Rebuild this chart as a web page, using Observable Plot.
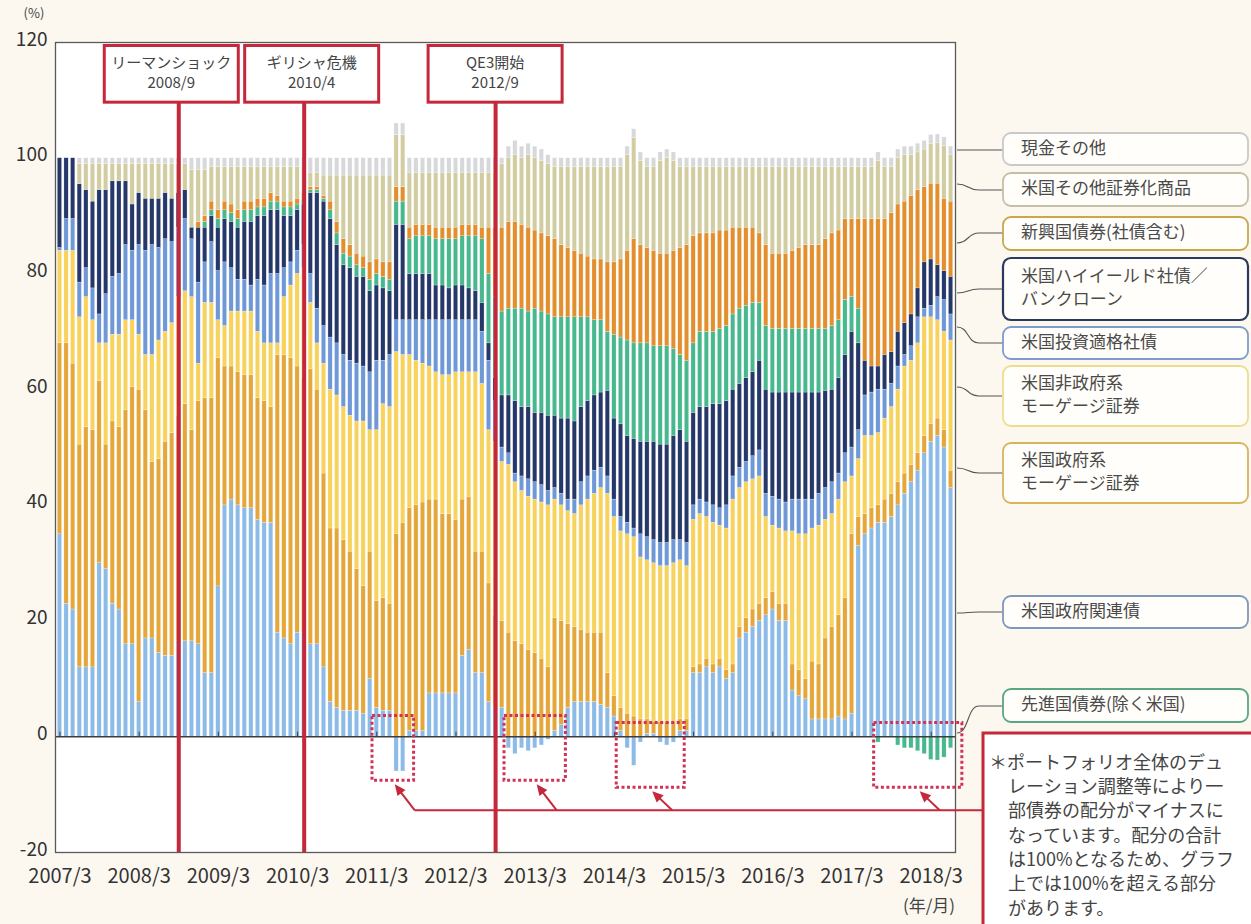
<!DOCTYPE html>
<html><head><meta charset="utf-8">
<script src="https://cdn.jsdelivr.net/npm/d3@7"></script>
<script src="https://cdn.jsdelivr.net/npm/@observablehq/plot@0.6"></script>
<style>
html,body{margin:0;padding:0;background:#fcf8f0;}
#chart{position:relative;width:1251px;height:924px;overflow:hidden;}
</style></head>
<body><div id="chart"></div>
<script>
// ---- months (categories) ----
const startYear = 2007, startMonth = 3, monthCount = 136;
const months = d3.range(monthCount).map(i => {
  const m = startMonth - 1 + i;
  return `${startYear + Math.floor(m / 12)}/${(m % 12) + 1}`;
});
const tickLabels = ["2007/3","2008/3","2009/3","2010/3","2011/3","2012/3","2013/3","2014/3","2015/3","2016/3","2017/3","2018/3"];
const yTicks = [-20, 0, 20, 40, 60, 80, 100, 120];

// ---- series names in stack order (bottom -> top) ----
const seriesNames = [
  "米国政府関連債",
  "米国政府系モーゲージ証券",
  "米国非政府系モーゲージ証券",
  "米国投資適格社債",
  "米国ハイイールド社債／バンクローン",
  "先進国債券(除く米国)",
  "新興国債券(社債含む)",
  "米国その他証券化商品",
  "現金その他"
];
const seriesColors = ["#8cbbe8","#e5a63a","#f7d25c","#6f98d7","#26386a","#48b88e","#e38f2e","#d2cca1","#d7d8d9"];

// ---- values (%), monthly 2007/3 .. 2018/6 ----
const seifuKanren = [35,23,22,12,12,12,30,29,23,22, 16,16,6,17,17,14.5,14,14,16.5,16.5, 16.5,16,11,11,26,40,41,40,39.5,39.5, 37.5,37,37,18,17,16,18,18,16,16, 12,6,5,4.5,4.5,4.5,4,10,5,4.5, 4.5,-6,-6,1,1,1,7.5,7.5,7.5,7.5, 7.5,14,15,11,11,6,5,5,-2,-3, -2,-2.5,-2,-1.5,-0.5,1,2,5,6,6, 6,6,5.5,5,3.5,1,-2,-5,-1,0.5, 0.5,-1,-1.5,-1,1,1,11,11,12,11, 12,10,11,17,18,19,20,21,22,20, 20,8,7,6.5,3,3,3,3,3.5,3, 4,33,35,36,37,37,38,40,42,44, 46,49,51,52,50,43];
const seifuMBS = [33,45,42.5,38.5,41.5,41,31.5,21.5,31.5,31.5, 40.5,44.5,54,39.5,30.5,33.5,37,38.5,39,41, 36.5,42,47.5,47.5,39.5,24,23,23,23,23, 21,21,20,48,49,49.5,46,44,47.5,44, 33.5,30,31,29.5,27.5,24.5,22,22,18.5,19.5, 18.5,35,37,38.5,39,39.5,33.5,33.5,31,31, 30,27,26.5,21,21,20.5,16,15,18,16.5, 16,15,14.5,13.5,12,19.5,18,14.5,13,12.5, 12,12,12.5,6,3.5,4,4,3.5,3,2.5, 2,2.5,2.5,2.5,2,2,1,1.5,1.5,1.5, 1.5,1.5,1.5,2,2.5,3,3,3,3,3, 3,4.5,4.5,3.5,10,9.5,14,16,17.5,21, 31,5,3.5,3.5,3,4,4,4,3.5,3, 3,3,3,3,3,3];
const hiseifuMBS = [16,16,19.5,22,22.5,19,6.5,17.5,15,16, 15.5,11.5,9.5,9.5,18.5,20.5,19,19,20.5,19.5, 23,6.5,16.5,16.5,6.5,7,9.5,10.5,11,11, 11.5,10,11,2,10,12.5,16,19,11.5,8, 19,24,23,23,23.5,25.5,28.5,21,29.5,33.5, 34,31.5,29,26.5,25,24,23,22,24,24, 25.5,22,21.5,31,29,26.5,30,27.5,29,27.5, 26.5,26.5,26.5,27,28,20.5,20,19.5,19.5,21.5, 23,24,25,31,31,30.5,31,31,28,27.5, 27.5,27,27,27.5,27.5,26.5,25.5,26,24.5,24.5, 23,24.5,28.5,24,23.5,22.5,22,14,11.5,13, 12.5,23,23.5,25,23,24,20.5,19.5,20,20, 10,10,13.5,12.5,12.5,14,15,16,18.5,18, 19,20.5,18.5,17,17,22.5];
const toushiTekikaku = [0.5,5.5,5.5,6,5,5.5,5,8.5,10,10.5, 13,12,15.5,18,19,16,16,14,12,12.5, 10,14,7,10.5,8.5,11,7.5,5.5,5.5,4.5, 9,10,12,12,5,4,4,4,5,6, 6.5,9,9,9,9.5,10,9.5,10,12,7.5, 9,5.5,6,6,7,7.5,8,9,9.5,9.5, 9,9,9,9,9,12,7,2.5,2,1.5, 2.5,3,3,3,2.5,2,2,2,2.5,4, 4,4,3.5,3,3,2.5,2,1.5,4,4, 4,4,4,4,3.5,4,2.5,2.5,2.5,3, 3,4,4,3.5,3.5,4,4.5,4,5,5, 5,5.5,6,6,5,5.5,5.5,5.5,4.5,5, 5,5,7,7.5,7.5,5,4,4,2,2.5, 4.5,1.5,2,4,5.5,4.5];
const highYield = [15.5,10.5,10.5,17,13.5,15,21.5,18,16.5,16, 11,8,9,9,8,8.5,8,7.5,6,5, 2,9.5,6,4.5,7.5,7.5,8,9,10,11, 11,12,11,11,9,8,7,7,14,20, 21.5,20.5,17,15.5,16,15,15.5,14,13,12.5, 11,16.5,16.5,8,8,8,8,6,6,5.5, 6,6,5.5,5,5,3,4,9,10,12.5, 12,12.5,12,12.5,13,12.5,13,14,13.5,13, 13,13,13,14.8,14,16,15,15.5,16,16.5, 17,17,17,18,19,17.5,16,16,16.5,17.5, 18,18,15,14.5,14.5,14.5,15.5,18,18,18.5, 19,18.5,18.5,18.5,18.5,17.5,16.8,16,16.5,17, 20,15,6,4.5,4,6,5.5,6,5.5,5.5, 5,8,8,5.5,5,6.5];
const senshinkoku = [0,0,0,0,0,0,0,0,0,0, 0,0,0,0,0,0,0,0,0,0, 0,0,1,1,1.5,1.5,1.5,1.5,2,2, 1.5,1.5,1.5,1.5,1.5,1.5,1,1,0.5,0.5, 0.5,1.5,2,2,2,2,1.5,2,2,2, 2,4,4,6,6.5,6.5,6.5,8,8,8.5, 8,8.5,9,9.5,11,12,14,14.5,15,16, 17,16.5,18,17.5,17.5,17,17.5,17.5,18,15.5, 14.5,13,12.5,10.2,14.5,15,16.5,16.5,17,17, 16.5,17,17,15,13,14,12,13,13,12.5, 13,13,13,13,12.5,12,10,11,11,11, 11,11,11,11,11,11,10.7,11,10,9.5, 6,6,0,0,-1,0,0,-1.5,-2,-2, -2.5,-3,-4,-4.1,-3.6,-2];
const shinkoukoku = [0,0,0,0,0,0,0,0,0,0, 0,0,0,0,0,0,0,0,0,0, 0,1,1,1.5,1.5,1.5,1.5,1.5,1.5,1.5, 1.5,1.5,1.5,1,1,1,1,1,0.5,0.5, 0.5,1.5,2,2.5,2,2,2,3,2.5,2.5, 3,2.5,2.5,2,2,2,2,2,2,2, 2,2,2,2,2,8,12,14.5,15,15, 14.5,14.5,13.5,13.5,13.5,13.5,12.5,12,11.5,11, 10.5,10.5,10.5,12,12.5,13.5,15.5,18,17,16.5, 16.5,16,16,17,18.5,20,18.5,17,17,17, 17,16.5,15,14,13.5,13,12,14,13,13, 13,13.5,14,14.5,14.5,14.5,15.5,16,15.5,14, 13.5,15.5,24.5,25.5,25.5,23.5,24,22,21,20.5, 17,13,13.1,14.1,12.5,13];
const sonotaShouken = [0,0,0,3.5,4.5,6.5,4.5,4.5,3,3, 3,7,5,6,6,6,5,6,5,4.5, 10,9,8,6,7.5,6,6.5,7.5,6,6, 5.5,5.5,4.5,5,6,6,5.5,4.5,2.5,2.5, 3.5,4.5,8,11,12,13.5,14,15,14.5,15, 15,9,9,9.5,9,9,9,9.5,9.5,9.5, 9.5,9,9,9,9.5,9.5,9.5,11,11,11.5, 11.5,12.5,12.5,12.5,12.5,12.5,13.5,14,14.5,15, 15.5,16,16,16.5,16.5,16,16.5,17.5,14.5,14, 14.5,16,16.5,15.5,14,13.5,12,11.5,11.5,11.5, 11,11,10.5,10.5,10.5,10.5,11.5,13.5,15,15, 15,14.5,14,13.5,13.5,13.5,12.5,11.5,11,9, 9,9,9,9,10,9,8,8,8,7, 6.5,6.5,6.9,7,9.1,8];
const genkin = [0,0,0,1,1,1,1,1,1,1, 1,1,1,1,1,1,1,1,1,1, 2,2,2,1.5,1.5,1.5,1.5,1.5,1.5,1.5, 1.5,1.5,1.5,1.5,1.5,1.5,1.5,1.5,2.5,2.5, 3,3,3,3,3,3,3,3,3,3, 3,2,2,2.5,2.5,2.5,2.5,2.5,2.5,2.5, 2.5,2.5,2.5,2.5,2.5,2.5,2.5,1,2,2.5, 2,2,2,2,1.5,1.5,1.5,1.5,1.5,1.5, 1.5,1.5,1.5,1.5,1.5,1.5,1.5,1.5,1.5,1.5, 1.5,1.5,1.5,1.5,1.5,1.5,1.5,1.5,1.5,1.5, 1.5,1.5,1.5,1.5,1.5,1.5,1.5,1.5,1.5,1.5, 1.5,1.5,1.5,1.5,1.5,1.5,1.5,1.5,1.5,1.5, 1.5,1.5,1.5,1.5,1.5,1.5,1.5,1.5,1.5,1.5, 1.5,1.5,1.5,1.5,1.5,1.5];

const seriesValues = [seifuKanren, seifuMBS, hiseifuMBS, toushiTekikaku, highYield, senshinkoku, shinkoukoku, sonotaShouken, genkin];

// ---- events & annotations ----
const events = [
  {month: "2008/9", title: "リーマンショック", date: "2008/9"},
  {month: "2010/4", title: "ギリシャ危機", date: "2010/4"},
  {month: "2012/9", title: "QE3開始", date: "2012/9"}
];
const negativeBoxes = [
  {from: "2011/3", to: "2011/8"},
  {from: "2012/11", to: "2013/7"},
  {from: "2014/4", to: "2015/1"},
  {from: "2017/7", to: "2018/6"}
];
const noteLines = ["＊ポートフォリオ全体のデュ","レーション調整等により一","部債券の配分がマイナスに","なっています。配分の合計","は100%となるため、グラフ","上では100%を超える部分","があります。"];
const legendLabels = [
  ["現金その他"], ["米国その他証券化商品"], ["新興国債券(社債含む)"],
  ["米国ハイイールド社債／","バンクローン"], ["米国投資適格社債"],
  ["米国非政府系","モーゲージ証券"], ["米国政府系","モーゲージ証券"],
  ["米国政府関連債"], ["先進国債券(除く米国)"]
];

// ---- build table ----
const rows = seriesNames.flatMap((name, s) => seriesValues[s].map((v, i) => ({month: months[i], series: name, value: v})));

const RED = "#c4283a";
const FONT = '"Noto Sans CJK JP","Noto Sans",sans-serif';

const chart = Plot.plot({
  width: 1251, height: 924,
  marginLeft: 55, marginRight: 296, marginTop: 42, marginBottom: 72,
  style: {background: "transparent", fontFamily: FONT, color: "#333", overflow: "visible"},
  x: {domain: months, padding: 0.35, axis: null},
  y: {domain: [-20, 120], axis: null},
  color: {domain: seriesNames, range: seriesColors},
  marks: [
    Plot.frame({fill: "white", stroke: null}),
    Plot.barY(rows, {x: "month", y: "value", fill: "series", order: seriesNames, stroke: "white", strokeWidth: 0.4, strokeOpacity: 0.6}),
    Plot.ruleY([0], {stroke: "#3c3c3c", strokeWidth: 1.4}),
    Plot.ruleX(tickLabels, {x: d => d, y1: 0, y2: 0.8, stroke: "#3c3c3c", strokeWidth: 1}),
    Plot.ruleX(events, {x: "month", y1: -20, y2: 109.6, stroke: RED, strokeWidth: 4}),
    Plot.frame({stroke: "#5a5a5a", strokeWidth: 1.3}),
    Plot.axisX({ticks: tickLabels, tickSize: 0, tickPadding: 16, fontSize: 20, fill: "#333", label: null}),
    Plot.axisY({ticks: yTicks, tickSize: 0, tickPadding: 8, fontSize: 19, dy: -3, fill: "#333", label: null, tickFormat: d => String(d)})
  ]
});
document.getElementById("chart").appendChild(chart);

// ---- overlay annotations using the chart scales ----
const svg = d3.select(chart);
const xs = chart.scale("x"), ys = chart.scale("y");
const step = xs.step, bw = xs.bandwidth;
const cx = m => xs.apply(m) + bw / 2;
const Y = v => ys.apply(v);
const plotRight = 1251 - 296;
const overlay = svg.append("g").attr("text-anchor", "start").attr("font-family", FONT);

// "(%)" and "(年/月)"
overlay.append("text").attr("x", 34).attr("y", 14).attr("text-anchor", "middle").attr("dominant-baseline", "middle")
  .attr("font-size", 13).attr("fill", "#444").text("(%)");
overlay.append("text").attr("x", 929).attr("y", 907).attr("text-anchor", "middle").attr("dominant-baseline", "middle")
  .attr("font-size", 17).attr("fill", "#444").text("(年/月)");

// event boxes (box centre offset from the event line, in px)
const evTop = 119.4, evBottom = 109.6, evWidth = 134;
const evShift = [-7, 8, 0];
events.forEach((e, j) => {
  const c = cx(e.month) + evShift[j];
  overlay.append("rect").attr("x", c - evWidth / 2).attr("y", Y(evTop))
    .attr("width", evWidth).attr("height", Y(evBottom) - Y(evTop))
    .attr("fill", "white").attr("stroke", RED).attr("stroke-width", 3);
  [e.title, e.date].forEach((t, k) => {
    overlay.append("text").attr("x", c).attr("y", Y(evTop) + 18 + k * 20).attr("text-anchor", "middle")
      .attr("dominant-baseline", "middle").attr("font-size", 15).attr("fill", "#444").text(t);
  });
});

// dashed boxes around negative allocations
const boxTops = [3.6, 3.6, 2.4, 2.4], boxBottoms = [-7.6, -7.6, -8.8, -8.8];
const arrowLineLevel = -12.8;
const heads = [];
negativeBoxes.forEach((b, j) => {
  const x1 = cx(b.from) - step / 2 - 1, x2 = cx(b.to) + step / 2 + (j === 3 ? 8 : 1);
  overlay.append("rect").attr("x", x1).attr("y", Y(boxTops[j])).attr("width", x2 - x1).attr("height", Y(boxBottoms[j]) - Y(boxTops[j]))
    .attr("fill", "none").attr("stroke", "#cf3458").attr("stroke-width", 3).attr("stroke-dasharray", "3,2.5");
  heads.push({x: (x1 + x2) / 2 + 2, y: Y(boxBottoms[j]) + 4});
});
const lineY = Y(arrowLineLevel);
const noteX = 983;
overlay.append("line").attr("x1", heads[0].x + 20).attr("x2", noteX).attr("y1", lineY).attr("y2", lineY)
  .attr("stroke", RED).attr("stroke-width", 2);
heads.forEach(h => {
  const tx = h.x + 20, ty = lineY;
  const dx = h.x - tx, dy = h.y - ty, len = Math.hypot(dx, dy);
  const ux = dx / len, uy = dy / len, nx = -uy, ny = ux;
  overlay.append("line").attr("x1", tx).attr("y1", ty).attr("x2", h.x - ux * 6).attr("y2", h.y - uy * 6)
    .attr("stroke", RED).attr("stroke-width", 2);
  const p = [[h.x, h.y], [h.x - ux * 11 + nx * 5, h.y - uy * 11 + ny * 5], [h.x - ux * 11 - nx * 5, h.y - uy * 11 - ny * 5]];
  overlay.append("path").attr("d", "M" + p.map(q => q.join(",")).join("L") + "Z").attr("fill", RED);
});

// note box
overlay.append("rect").attr("x", noteX).attr("y", 733).attr("width", 300).attr("height", 220)
  .attr("fill", "white").attr("stroke", RED).attr("stroke-width", 3);
noteLines.forEach((t, i) => {
  overlay.append("text").attr("x", i === 0 ? 989 : 1008).attr("y", 764 + i * 24.3).attr("dominant-baseline", "middle")
    .attr("font-size", 18).attr("fill", "#444").text(t);
});

// legend boxes with connectors
const legendColors = ["#c9c9c9","#c4c0a6","#c8a84e","#2a3a5e","#7d9ccc","#eedd90","#d8b45c","#7f99b8","#5aa682"];
const legendLayout = [
  {top: 133, h: 32, from: 150, to: 150},
  {top: 173, h: 33, from: 184, to: 190},
  {top: 217, h: 33, from: 243, to: 233},
  {top: 258, h: 62, from: 293, to: 289},
  {top: 327, h: 32, from: 327, to: 343},
  {top: 366, h: 60, from: 387, to: 396},
  {top: 443, h: 60, from: 468, to: 473},
  {top: 596, h: 32, from: 613, to: 612},
  {top: 689, h: 33, from: 733, to: 706}
];
const boxX = 1003, boxW = 245;
legendLabels.forEach((lines, i) => {
  const L = legendLayout[i];
  overlay.append("path").attr("d", `M${plotRight + 2},${L.from} C${plotRight + 14},${L.from} ${plotRight + 12},${L.to} ${plotRight + 24},${L.to} L${boxX},${L.to}`)
    .attr("fill", "none").attr("stroke", "#555").attr("stroke-width", 1.1);
  overlay.append("rect").attr("x", boxX).attr("y", L.top).attr("width", boxW).attr("height", L.h).attr("rx", 8)
    .attr("fill", "#fffefa").attr("stroke", legendColors[i]).attr("stroke-width", i === 3 ? 2.2 : 1.8);
  const mid = L.top + L.h / 2;
  lines.forEach((t, k) => {
    const y = lines.length === 1 ? mid : mid + (k - 0.5) * 23.5;
    overlay.append("text").attr("x", boxX + 18).attr("y", y).attr("dominant-baseline", "middle")
      .attr("font-size", 17).attr("fill", "#4a4a4a").text(t);
  });
});
</script>
</body></html>
